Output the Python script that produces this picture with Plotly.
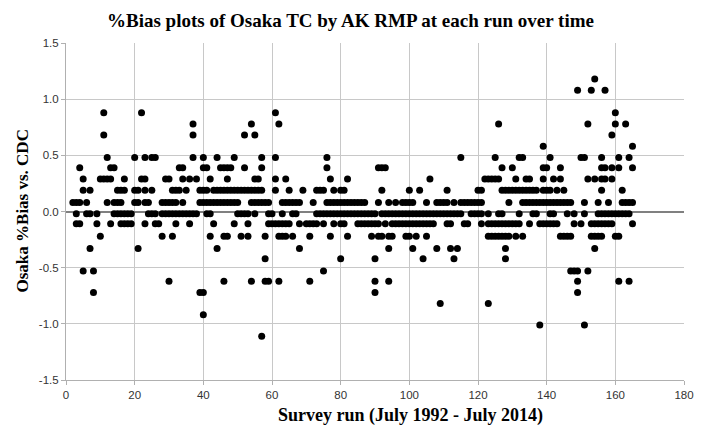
import plotly.graph_objects as go

# %Bias values (levels) and the survey runs that show each value
bias_p118 = [154]
bias_p108 = [149, 153, 157]
bias_p088 = [11, 22, 61, 160]
bias_p078 = [37, 54, 62, 126, 152, 160, 163]
bias_p068 = [11, 37, 52, 55, 159]
bias_p058 = [139, 165]
bias_p048 = [12, 20, 23, 25, 26, 37, 40, 44, 49, 57, 61, 76, 115, 125, 132, 133,
             141, 150, 151, 156, 161, 164]
bias_p039 = [4, 13, 14, 33, 34, 40, 41, 45, 46, 47, 48, 52, 57, 76, 91, 92, 93, 127,
             130, 139, 140, 144, 156, 157, 159, 161, 165]
bias_p029 = [5, 10, 11, 12, 13, 17, 22, 23, 29, 30, 34, 36, 38, 42, 47, 55, 56, 61,
             64, 77, 82, 106, 122, 123, 124, 125, 126, 131, 134, 135, 139, 142, 144,
             152, 154, 156, 157, 159]
bias_p019 = [5, 7, 15, 16, 17, 20, 21, 23, 25, 31, 32, 33, 35, 39, 40, 41, 43, 44,
             45, 46, 47, 48, 49, 50, 51, 52, 53, 54, 55, 56, 57, 61, 65, 69, 73, 74,
             75, 78, 80, 81, 92, 100, 103, 111, 120, 121, 127, 128, 129, 130, 131,
             132, 133, 134, 135, 136, 137, 139, 140, 141, 143, 145, 156, 162]
bias_p008 = [2, 3, 4, 6, 12, 14, 15, 16, 20, 21, 23, 24, 28, 29, 30, 31, 32, 34, 39,
             40, 41, 42, 43, 44, 45, 46, 47, 48, 49, 50, 54, 55, 56, 57, 58, 59, 63,
             64, 65, 66, 67, 68, 72, 76, 77, 78, 79, 80, 81, 82, 83, 84, 85, 86, 87,
             91, 94, 96, 98, 99, 100, 101, 105, 108, 109, 110, 111, 113, 115, 116,
             117, 118, 119, 120, 121, 129, 133, 134, 135, 136, 137, 138, 139, 140,
             141, 142, 143, 144, 145, 146, 147, 151, 155, 158, 162, 163, 164, 165]
bias_m002 = [3, 6, 7, 9, 14, 15, 16, 17, 18, 19, 24, 25, 26, 28, 29, 30, 31, 32, 33,
             34, 35, 36, 37, 38, 41, 42, 50, 51, 52, 53, 55, 59, 60, 63, 66, 67, 73,
             74, 75, 76, 77, 78, 79, 80, 81, 82, 83, 84, 85, 86, 87, 88, 89, 90, 92,
             93, 94, 95, 96, 97, 98, 99, 100, 101, 102, 103, 104, 105, 106, 107, 108,
             109, 110, 111, 112, 113, 114, 115, 118, 119, 120, 121, 123, 126, 127,
             132, 136, 137, 141, 142, 146, 148, 151, 155, 156, 157, 158, 159, 160,
             161, 162, 163, 164]
bias_m011 = [3, 4, 9, 13, 16, 17, 18, 19, 23, 26, 27, 32, 36, 43, 49, 53, 59, 60, 61,
             62, 63, 64, 65, 68, 70, 71, 72, 73, 75, 78, 80, 81, 85, 86, 87, 88, 89,
             90, 91, 93, 95, 96, 97, 98, 99, 100, 101, 102, 103, 104, 105, 106, 107,
             111, 112, 116, 117, 121, 123, 124, 125, 126, 127, 128, 129, 130, 131,
             132, 135, 138, 139, 140, 141, 142, 143, 148, 150, 153, 154, 155, 156,
             157, 158, 159, 165]
bias_m022 = [10, 28, 31, 42, 46, 47, 51, 53, 58, 62, 63, 64, 66, 71, 77, 82, 89, 91,
             92, 94, 95, 99, 100, 102, 105, 123, 124, 125, 126, 127, 128, 129, 131,
             133, 144, 145, 146, 147, 153, 154, 155, 156, 160, 161]
bias_m033 = [7, 21, 44, 68, 94, 101, 108, 112, 114, 128, 154]
bias_m042 = [58, 80, 90, 104, 113, 128]
bias_m053 = [5, 8, 75, 147, 148, 149, 152]
bias_m062 = [30, 46, 54, 58, 59, 62, 71, 90, 94, 149, 161, 164]
bias_m072 = [8, 39, 40, 90, 149]
bias_m082 = [109, 123]
bias_m092 = [40]
bias_m101 = [138, 151]
bias_m111 = [57]

levels = [
    (1.18, bias_p118), (1.08, bias_p108), (0.88, bias_p088), (0.78, bias_p078),
    (0.68, bias_p068), (0.58, bias_p058), (0.48, bias_p048), (0.39, bias_p039),
    (0.29, bias_p029), (0.19, bias_p019), (0.08, bias_p008), (-0.02, bias_m002),
    (-0.11, bias_m011), (-0.22, bias_m022), (-0.33, bias_m033), (-0.42, bias_m042),
    (-0.53, bias_m053), (-0.62, bias_m062), (-0.72, bias_m072), (-0.82, bias_m082),
    (-0.92, bias_m092), (-1.01, bias_m101), (-1.11, bias_m111),
]

x_ticks = [0, 20, 40, 60, 80, 100, 120, 140, 160, 180]
y_ticks = [-1.5, -1.0, -0.5, 0.0, 0.5, 1.0, 1.5]

runs, bias = [], []
for val, rlist in levels:
    for r in rlist:
        runs.append(r)
        bias.append(val)

fig = go.Figure(go.Scatter(
    x=runs, y=bias, mode="markers",
    marker=dict(color="black", size=7, line=dict(width=0)),
    hoverinfo="x+y",
))

serif = "Liberation Serif"
# the page body adds an 8px margin, so the figure is sized 714-16 by 442-16
fig.update_layout(
    width=698, height=426,
    margin=dict(l=58, r=12, t=35, b=54),
    paper_bgcolor="white", plot_bgcolor="white",
    showlegend=False,
    font=dict(family="Liberation Sans", size=11, color="#333333"),
    xaxis=dict(
        range=[0, 180], tickvals=x_ticks, ticktext=[str(t) for t in x_ticks],
        showgrid=True, gridcolor="#c8c8c8", gridwidth=1,
        zeroline=False, showline=True, linecolor="#b0b0b0",
        ticks="outside", ticklen=4, tickcolor="#b0b0b0",
        tickfont=dict(family="Liberation Sans", size=11.5, color="#333333"),
        fixedrange=True,
    ),
    yaxis=dict(
        range=[-1.5, 1.5], tickvals=y_ticks, ticktext=[f"{t:.1f}" for t in y_ticks],
        showgrid=True, gridcolor="#c8c8c8", gridwidth=1,
        zeroline=True, zerolinecolor="#808080", zerolinewidth=1.5,
        showline=True, linecolor="#b0b0b0",
        ticks="outside", ticklen=4, tickcolor="#b0b0b0",
        tickfont=dict(family="Liberation Sans", size=11.5, color="#333333"),
        fixedrange=True,
    ),
    annotations=[
        dict(text="<b>%Bias plots of Osaka TC by AK RMP at each run over time</b>",
             xref="paper", yref="paper", x=289 / 628, y=1.0, yshift=23,
             xanchor="center", yanchor="middle", showarrow=False,
             font=dict(family=serif, size=19, color="black")),
        dict(text="<b>Survey run (July 1992 - July 2014)</b>",
             xref="paper", yref="paper", x=350 / 628, y=0, yshift=-35,
             xanchor="center", yanchor="middle", showarrow=False,
             font=dict(family=serif, size=18, color="black")),
        dict(text="<b>Osaka %Bias vs. CDC</b>",
             xref="paper", yref="paper", x=0, xshift=-44, y=0.5,
             xanchor="center", yanchor="middle", showarrow=False, textangle=-90,
             font=dict(family=serif, size=17, color="black")),
    ],
)

fig.write_html("out.html")
